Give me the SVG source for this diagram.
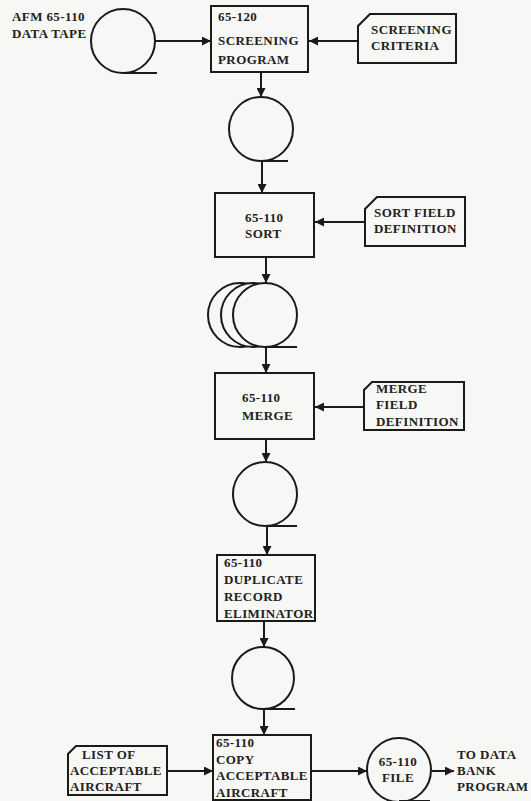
<svg xmlns="http://www.w3.org/2000/svg" width="531" height="801" viewBox="0 0 531 801">
  <style>
    .bg { fill: #f7f7f5; }
    .shape { fill: none; stroke: #1a1a1a; stroke-width: 2; }
    .reel { fill: #f7f7f5; stroke: #1a1a1a; stroke-width: 2; }
    .line { fill: none; stroke: #1a1a1a; stroke-width: 2; }
    text { font-family: "Liberation Serif", "DejaVu Serif", serif; font-weight: bold; font-size: 13px; letter-spacing: 0.4px; fill: #222; }
    .mid { text-anchor: middle; }
  </style>
  <defs>
    <marker id="arrow" viewBox="0 0 10 10" refX="10" refY="5" markerWidth="9" markerHeight="9" markerUnits="userSpaceOnUse" orient="auto">
      <path d="M0,0 L10,5 L0,10 z" fill="#1a1a1a"/>
    </marker>
  </defs>
  <rect class="bg" x="0" y="0" width="531" height="801"/>

  <!-- connectors -->
  <g id="connectors" class="line">
    <line x1="155" y1="41" x2="211" y2="41" marker-end="url(#arrow)"/>
    <line x1="358" y1="41" x2="309" y2="41" marker-end="url(#arrow)"/>
    <line x1="261" y1="72" x2="261" y2="97" marker-end="url(#arrow)"/>
    <line x1="262" y1="162" x2="262" y2="193" marker-end="url(#arrow)"/>
    <line x1="365" y1="222" x2="315" y2="222" marker-end="url(#arrow)"/>
    <line x1="266" y1="257" x2="266" y2="283" marker-end="url(#arrow)"/>
    <line x1="266" y1="347" x2="266" y2="373" marker-end="url(#arrow)"/>
    <line x1="364" y1="407" x2="315" y2="407" marker-end="url(#arrow)"/>
    <line x1="266" y1="439" x2="266" y2="462" marker-end="url(#arrow)"/>
    <line x1="267" y1="527" x2="267" y2="555" marker-end="url(#arrow)"/>
    <line x1="264" y1="621" x2="264" y2="647" marker-end="url(#arrow)"/>
    <line x1="264" y1="709" x2="264" y2="735" marker-end="url(#arrow)"/>
    <line x1="167" y1="771" x2="213" y2="771" marker-end="url(#arrow)"/>
    <line x1="311" y1="771" x2="367" y2="771" marker-end="url(#arrow)"/>
    <line x1="432" y1="771" x2="454" y2="771" marker-end="url(#arrow)"/>
  </g>

  <!-- input tape -->
  <g id="tape-input">
    <circle class="shape" cx="123" cy="41" r="32"/>
    <line class="line" x1="123" y1="73" x2="157" y2="73"/>
    <text x="12" y="21">AFM 65-110</text>
    <text x="12" y="38">DATA TAPE</text>
  </g>

  <g id="screening-program">
    <rect class="shape" x="211" y="6" width="97" height="66"/>
    <text x="218" y="21">65-120</text>
    <text x="218" y="45">SCREENING</text>
    <text x="218" y="64">PROGRAM</text>
  </g>

  <g id="screening-criteria">
    <path class="shape" d="M370,14 L456,14 L456,63 L358,63 L358,26 Z"/>
    <text x="371" y="34">SCREENING</text>
    <text x="371" y="50">CRITERIA</text>
  </g>

  <g id="tape-screened">
    <circle class="shape" cx="261" cy="129" r="32"/>
    <line class="line" x1="261" y1="161" x2="288" y2="161"/>
  </g>

  <g id="sort">
    <rect class="shape" x="215" y="193" width="99" height="64"/>
    <text x="245" y="222">65-110</text>
    <text x="245" y="238">SORT</text>
  </g>

  <g id="sort-field-definition">
    <path class="shape" d="M377,197 L465,197 L465,246 L365,246 L365,209 Z"/>
    <text x="374" y="217">SORT FIELD</text>
    <text x="374" y="233">DEFINITION</text>
  </g>

  <!-- stacked reels: back ones drawn first, front reel covers them -->
  <g id="tape-sorted">
    <circle class="reel" cx="240" cy="315" r="32"/>
    <circle class="reel" cx="253" cy="315" r="32"/>
    <circle class="reel" cx="265" cy="315" r="32"/>
    <line class="line" x1="265" y1="347" x2="297" y2="347"/>
  </g>

  <g id="merge">
    <rect class="shape" x="215" y="373" width="99" height="66"/>
    <text x="242" y="402">65-110</text>
    <text x="242" y="420">MERGE</text>
  </g>

  <g id="merge-field-definition">
    <path class="shape" d="M372,382 L464,382 L464,430 L364,430 L364,390 Z"/>
    <text x="376" y="393">MERGE</text>
    <text x="376" y="409">FIELD</text>
    <text x="376" y="426">DEFINITION</text>
  </g>

  <g id="tape-merged">
    <circle class="shape" cx="265" cy="494" r="32"/>
    <line class="line" x1="267" y1="526" x2="297" y2="526"/>
  </g>

  <g id="duplicate-record-eliminator">
    <rect class="shape" x="217" y="555" width="98" height="66"/>
    <text x="224" y="567">65-110</text>
    <text x="224" y="584">DUPLICATE</text>
    <text x="224" y="601">RECORD</text>
    <text x="224" y="618">ELIMINATOR</text>
  </g>

  <g id="tape-unique">
    <circle class="shape" cx="263" cy="678" r="31"/>
    <line class="line" x1="264" y1="709" x2="295" y2="709"/>
  </g>

  <g id="acceptable-list">
    <path class="shape" d="M76,746 L167,746 L167,795 L68,795 L68,754 Z"/>
    <text x="82" y="759">LIST OF</text>
    <text x="70" y="775">ACCEPTABLE</text>
    <text x="70" y="791">AIRCRAFT</text>
  </g>

  <g id="copy-acceptable">
    <rect class="shape" x="213" y="735" width="98" height="65"/>
    <text x="216" y="747">65-110</text>
    <text x="216" y="764">COPY</text>
    <text x="216" y="780">ACCEPTABLE</text>
    <text x="216" y="797">AIRCRAFT</text>
  </g>

  <g id="file">
    <circle class="shape" cx="399" cy="770" r="32"/>
    <line class="line" x1="399" y1="801" x2="430" y2="801"/>
    <text class="mid" x="398" y="766">65-110</text>
    <text class="mid" x="398" y="782">FILE</text>
  </g>

  <g id="data-bank-label">
    <text x="457" y="759">TO DATA</text>
    <text x="457" y="775">BANK</text>
    <text x="457" y="791">PROGRAM</text>
  </g>
</svg>
